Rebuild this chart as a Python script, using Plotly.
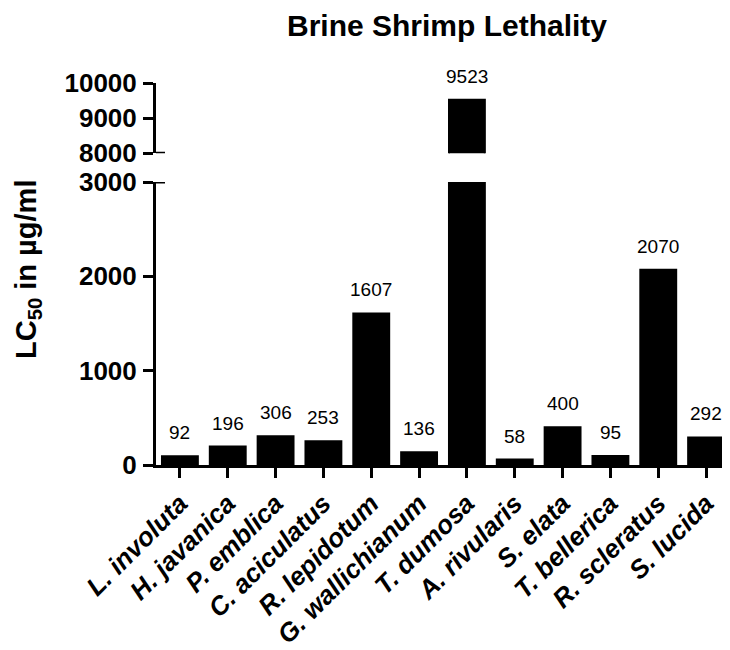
import plotly.graph_objects as go

categories = ["L. involuta", "H. javanica", "P. emblica", "C. aciculatus", "R. lepidotum",
              "G. wallichianum", "T. dumosa", "A. rivularis", "S. elata", "T. bellerica",
              "R. scleratus", "S. lucida"]
lc50 = [92, 196, 306, 253, 1607, 136, 9523, 58, 400, 95, 2070, 292]
lower_ticks = [0, 1000, 2000, 3000]
upper_ticks = [8000, 9000, 10000]
lower_range = [0, 3000]
upper_range = [8000, 10000]

FONT = "Liberation Sans, Arial, sans-serif"
OFF = 8  # page body margin
W, H = 730 - OFF, 650 - OFF
L, R, T, B = 156 - OFF, 0, 83 - OFF, 650 - 465
plot_h = H - T - B
plot_w = W - L - R
lower_top = (465 - 182) / plot_h
upper_bot = (465 - 153.3) / plot_h

fig = go.Figure()
fig.add_trace(go.Bar(x=categories, y=lc50, yaxis="y", marker=dict(color="black", line=dict(color="black", width=2)),
                     width=0.75, showlegend=False))
fig.add_trace(go.Bar(x=categories, y=lc50, yaxis="y2", marker=dict(color="black", line=dict(color="black", width=2)),
                     width=0.75, showlegend=False))

annotations = []
for c, v in zip(categories, lc50):
    yref = "y2" if v > lower_range[1] else "y"
    annotations.append(dict(x=c, y=v, xref="x", yref=yref, text=str(v), showarrow=False,
                            yanchor="bottom", yshift=11, font=dict(family=FONT, size=19, color="black")))
annotations.append(dict(x=(28 - 156) / plot_w, y=(465 - 270) / plot_h, xref="paper", yref="paper",
                        text="LC<sub>50</sub> in µg/ml", textangle=-90, showarrow=False,
                        xanchor="center", yanchor="middle",
                        font=dict(family=FONT, size=29, color="black", weight="bold")))

brk = (165 - 156) / plot_w
shapes = [
    dict(type="line", xref="paper", yref="y", x0=0, x1=brk, y0=lower_range[1], y1=lower_range[1],
         line=dict(color="black", width=3)),
    dict(type="line", xref="paper", yref="y2", x0=0, x1=brk, y0=upper_range[0], y1=upper_range[0],
         line=dict(color="black", width=3)),
]

tickfont = dict(family=FONT, size=26, color="black", weight="bold")
fig.update_layout(
    width=W, height=H,
    margin=dict(l=L, r=R, t=T, b=B),
    plot_bgcolor="white", paper_bgcolor="white",
    title=dict(text="Brine Shrimp Lethality", x=(447 - OFF) / W, xanchor="center", xref="container",
               y=1 - (25 - OFF) / H, yanchor="middle", yref="container",
               font=dict(family=FONT, size=30, color="black", weight="bold")),
    xaxis=dict(anchor="y", range=[-0.5, 11.5], showline=True, linecolor="black", linewidth=3,
               ticks="outside", ticklen=10, tickwidth=3, tickcolor="black", tickangle=-45,
               tickfont=dict(family=FONT, size=26, color="black", weight="bold", style="italic"),
               showgrid=False, zeroline=False, automargin=False),
    yaxis=dict(domain=[0, lower_top], range=lower_range, tickvals=lower_ticks, showline=True,
               linecolor="black", linewidth=3, ticks="outside", ticklen=10, tickwidth=3,
               tickcolor="black", tickfont=tickfont, showgrid=False, zeroline=False,
               tickformat="d", automargin=False, ticklabelstandoff=1),
    yaxis2=dict(domain=[upper_bot, 1], range=upper_range, tickvals=upper_ticks, anchor="x",
                showline=True, linecolor="black", linewidth=3, ticks="outside", ticklen=10,
                tickwidth=3, tickcolor="black", tickfont=tickfont, showgrid=False, zeroline=False,
                tickformat="d", automargin=False, ticklabelstandoff=1),
    bargap=0.25,
    annotations=annotations,
    shapes=shapes,
)

fig.write_html("out.html")
